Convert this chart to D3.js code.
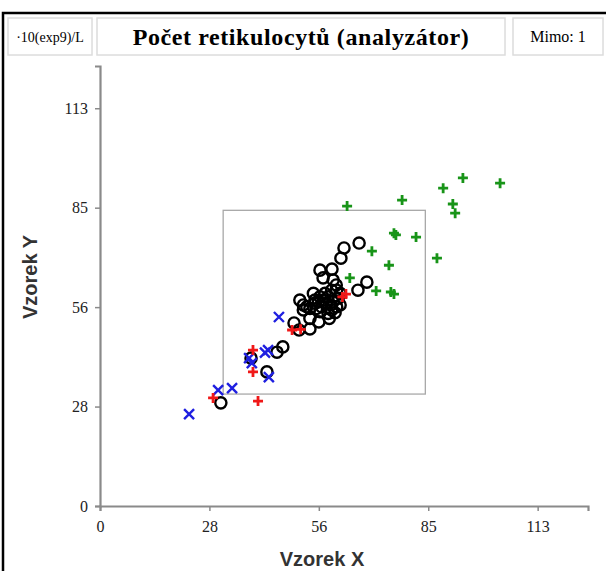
<!DOCTYPE html>
<html>
<head>
<meta charset="utf-8">
<script src="https://cdn.jsdelivr.net/npm/d3@7"></script>
<style>
  body { margin: 0; background: #fff; }
  svg { display: block; }
</style>
</head>
<body>
<svg width="606" height="571"></svg>
<script>
// tick values and their printed labels
const tickValues = [0, 28.25, 56.5, 84.75, 113]
const tickLabels = ["0", "28", "56", "85", "113"]

// comparison box (data units)
const boxLow = 31.8
const boxHigh = 84

// [x, y] pairs
const blackPoints = [
  [66.9, 74.7], [63.0, 73.3], [62.2, 70.4], [56.8, 67.0], [59.9, 67.3],
  [57.6, 64.8], [60.2, 64.2], [61.0, 62.8], [68.9, 63.6], [66.6, 61.3],
  [51.6, 58.5], [52.5, 57.1], [55.1, 60.4], [55.5, 58.5], [56.8, 59.4],
  [58.1, 60.4], [58.9, 59.4], [59.8, 61.3], [61.1, 61.3], [62.0, 60.4],
  [60.2, 58.0], [58.5, 57.6], [57.2, 56.6], [55.9, 56.1], [54.2, 56.1],
  [53.4, 56.6], [61.1, 56.6], [59.8, 55.7], [62.0, 57.1], [58.9, 54.7],
  [56.8, 55.2], [54.2, 53.3], [56.5, 52.3], [59.2, 53.3], [60.7, 54.9],
  [52.5, 55.7], [55.5, 57.6], [57.7, 58.5], [59.6, 57.1], [56.4, 58.0],
  [61.5, 59.0], [50.1, 52.0], [51.4, 50.0], [54.2, 50.3], [47.2, 45.2],
  [45.7, 43.7], [39.0, 42.0], [43.1, 38.1], [31.2, 29.3]
]
const bluePoints = [
  [46.2, 53.7], [43.4, 44.3], [42.6, 43.6], [38.5, 42.0], [39.2, 40.6],
  [43.6, 36.6], [34.1, 33.5], [30.5, 32.9], [23.0, 26.1]
]
const redPoints = [
  [63.5, 60.2], [62.6, 59.4], [49.6, 50.0], [51.8, 50.2], [39.5, 44.3],
  [39.5, 38.1], [40.8, 29.8], [29.2, 30.7]
]
const greenPoints = [
  [63.8, 85.2], [78.0, 86.9], [88.6, 90.3], [93.7, 93.2], [103.3, 91.7],
  [91.1, 85.8], [91.7, 83.2], [75.9, 77.5], [76.4, 77.0], [81.6, 76.4],
  [70.2, 72.4], [87.0, 70.4], [74.6, 68.4], [64.5, 64.8], [71.3, 61.1],
  [75.1, 60.8], [75.9, 60.2]
]

const svg = d3.select("svg")

// outer frame, runs off the right and bottom edges
svg.append("rect")
    .attr("x", 3).attr("y", 13)
    .attr("width", 700).attr("height", 700)
    .attr("fill", "none")
    .attr("stroke", "#000")
    .attr("stroke-width", 2.5)

// header boxes
const headers = [
    { x: 8, w: 84, text: "\u00b710(exp9)/L", size: 14, weight: "normal", spacing: 0 },
    { x: 97, w: 408, text: "Počet retikulocytů (analyzátor)", size: 24, weight: "bold", spacing: 0.6 },
    { x: 513, w: 90, text: "Mimo: 1", size: 16, weight: "normal", spacing: 0 }
]
const head = svg.append("g")
head.selectAll("rect")
    .data(headers)
    .enter()
    .append("rect")
    .attr("x", d => d.x).attr("y", 18)
    .attr("width", d => d.w).attr("height", 37)
    .attr("fill", "#fff")
    .attr("stroke", "#dcdcdc")
    .attr("stroke-width", 1.5)
head.selectAll("text")
    .data(headers)
    .enter()
    .append("text")
    .attr("x", d => d.x + d.w / 2)
    .attr("y", d => d.size > 20 ? 45 : 42)
    .attr("text-anchor", "middle")
    .style("font-family", "'Liberation Serif', 'DejaVu Serif', serif")
    .style("font-size", d => d.size + "px")
    .style("font-weight", d => d.weight)
    .style("letter-spacing", d => d.spacing + "px")
    .text(d => d.text)

const x = d3.scaleLinear().domain([0, 126]).range([100, 588])
const y = d3.scaleLinear().domain([0, 125]).range([506, 66])

const xAxis = d3.axisBottom(x)
    .tickValues(tickValues)
    .tickFormat((d, i) => tickLabels[i])
    .tickSizeOuter(0)
    .tickSize(5)
const yAxis = d3.axisLeft(y)
    .tickValues(tickValues)
    .tickFormat((d, i) => tickLabels[i])
    .tickSizeOuter(0)
    .tickSize(5)

const gx = svg.append("g").attr("transform", "translate(0,506)").call(xAxis)
const gy = svg.append("g").attr("transform", "translate(100,0)").call(yAxis)

for (const g of [gx, gy]) {
    g.select(".domain").attr("stroke", "#8a8a8a").attr("stroke-width", 2.2)
    g.selectAll(".tick line").attr("stroke", "#8a8a8a").attr("stroke-width", 1.5)
    g.selectAll(".tick text")
        .style("font-family", "'Liberation Serif', 'DejaVu Serif', serif")
        .style("font-size", "16px")
        .attr("fill", "#222")
}
gx.selectAll(".tick text").attr("dy", "1.15em")
gy.selectAll(".tick text").attr("x", -12)

// axis titles
svg.append("text")
    .attr("x", 322).attr("y", 566)
    .attr("text-anchor", "middle")
    .style("font-family", "'Liberation Sans', Arial, sans-serif")
    .style("font-size", "20px")
    .style("font-weight", "bold")
    .attr("fill", "#333")
    .text("Vzorek X")
svg.append("text")
    .attr("transform", "translate(37,277) rotate(-90)")
    .attr("text-anchor", "middle")
    .style("font-family", "'Liberation Sans', Arial, sans-serif")
    .style("font-size", "20px")
    .style("font-weight", "bold")
    .attr("fill", "#333")
    .text("Vzorek Y")

// comparison box
svg.append("rect")
    .attr("x", x(boxLow)).attr("y", y(boxHigh))
    .attr("width", x(boxHigh) - x(boxLow))
    .attr("height", y(boxLow) - y(boxHigh))
    .attr("fill", "none")
    .attr("stroke", "#a8a8a8")
    .attr("stroke-width", 1.3)

const plot = svg.append("g")

plot.selectAll("circle.black")
    .data(blackPoints)
    .enter()
    .append("circle")
    .attr("cx", d => x(d[0]))
    .attr("cy", d => y(d[1]))
    .attr("r", 5.6)
    .attr("fill", "none")
    .attr("stroke", "#000")
    .attr("stroke-width", 2.4)

const s = 5
plot.selectAll("path.blue")
    .data(bluePoints)
    .enter()
    .append("path")
    .attr("d", d => {
        const cx = x(d[0]), cy = y(d[1])
        return `M${cx - s},${cy - s}L${cx + s},${cy + s}M${cx - s},${cy + s}L${cx + s},${cy - s}`
    })
    .attr("stroke", "#1f1fe0")
    .attr("stroke-width", 2.4)

const plus = (d) => {
    const cx = x(d[0]), cy = y(d[1])
    return `M${cx - s},${cy}L${cx + s},${cy}M${cx},${cy - s}L${cx},${cy + s}`
}
plot.selectAll("path.red")
    .data(redPoints)
    .enter()
    .append("path")
    .attr("d", plus)
    .attr("stroke", "#f01818")
    .attr("stroke-width", 2.8)

plot.selectAll("path.green")
    .data(greenPoints)
    .enter()
    .append("path")
    .attr("d", plus)
    .attr("stroke", "#189418")
    .attr("stroke-width", 2.8)
</script>
</body>
</html>
